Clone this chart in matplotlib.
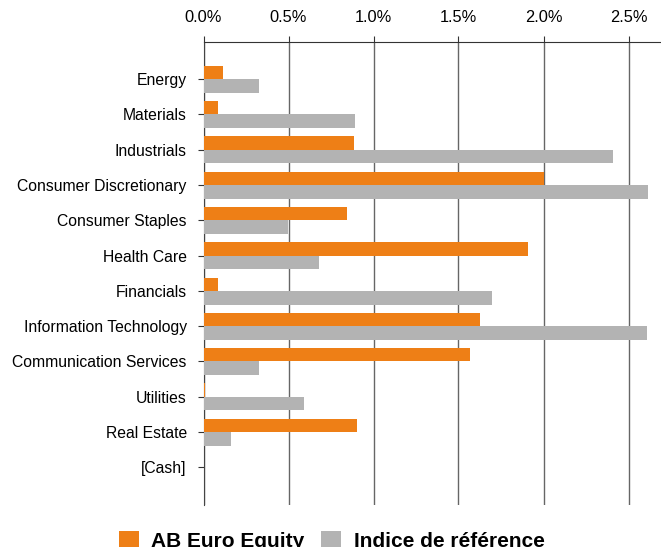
import numpy as np
import matplotlib
matplotlib.use("Agg")
import matplotlib.pyplot as plt
from matplotlib.ticker import FuncFormatter

plt.rcParams['font.family'] = ['Liberation Sans', 'DejaVu Sans']

# Données (en %)
secteurs = ['Energy', 'Materials', 'Industrials', 'Consumer Discretionary',
            'Consumer Staples', 'Health Care', 'Financials',
            'Information Technology', 'Communication Services', 'Utilities',
            'Real Estate', '[Cash]']
fonds = [0.115, 0.085, 0.885, 2.003, 0.842, 1.909, 0.085, 1.626, 1.568, 0.01, 0.903, 0.005]
indice = [0.326, 0.891, 2.409, 2.615, 0.499, 0.679, 1.697, 2.609, 0.326, 0.591, 0.162, 0.004]
ticks_x = [0.0, 0.5, 1.0, 1.5, 2.0, 2.5]

orange = '#EE7F16'
gris = '#B3B3B3'

fig = plt.figure(figsize=(6.61, 5.47), dpi=100)
ax = fig.add_axes([203.5/661, 1-505/547, 1-203.5/661, (505-42)/547])

y = np.arange(len(secteurs))
ax.barh(y - 0.375, fonds, height=0.375, align='edge', color=orange, zorder=3,
        label='AB Euro Equity')
ax.barh(y, indice, height=0.39, align='edge', color=gris, zorder=3,
        label='Indice de référence')

ax.set_xlim(0, (661-203.5)/170)
ax.set_ylim(len(secteurs) + 0.07, -1.05)
ax.set_yticks(y)
ax.set_yticklabels(secteurs, fontsize=11.3)
ax.set_xticks(ticks_x)
ax.xaxis.set_major_formatter(FuncFormatter(lambda v, p: '{:.1f}%'.format(v)))
ax.xaxis.tick_top()
ax.tick_params(axis='x', labelsize=11.8, length=4, pad=8, color='#333333')
ax.tick_params(axis='y', length=4, pad=8, color='#333333')

for v in ticks_x:
    ax.axvline(v, color='#666666', lw=1, zorder=1)

for s in ['right', 'bottom']:
    ax.spines[s].set_visible(False)
ax.spines['top'].set_color('#333333')
ax.spines['left'].set_color('#444444')

fig.legend(loc='center', bbox_to_anchor=(0.502, 1-541/547), ncol=2,
           frameon=False, prop={'weight': 'bold', 'size': 15},
           handlelength=0.96, handleheight=0.96, handletextpad=0.62,
           columnspacing=0.8, borderaxespad=0)

fig.savefig('out.png', dpi=100)
